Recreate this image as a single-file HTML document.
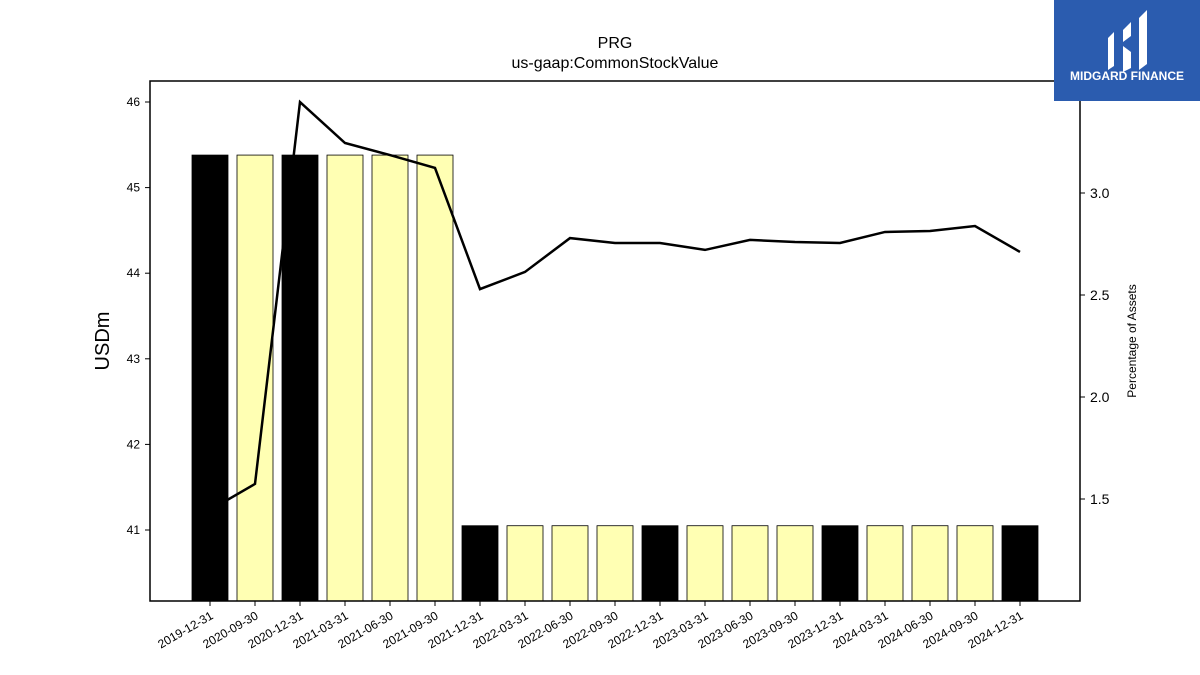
<!DOCTYPE html>
<html><head><meta charset="utf-8"><style>
body{margin:0;background:#fff;}
svg{display:block;font-family:"Liberation Sans","DejaVu Sans",sans-serif;}
</style></head><body>
<svg id="chart" width="1200" height="675" viewBox="0 0 1200 675">
<text x="615" y="48" font-size="16" text-anchor="middle">PRG</text>
<text x="615" y="68" font-size="16" text-anchor="middle">us-gaap:CommonStockValue</text>
<text x="0" y="0" font-size="20" text-anchor="middle" transform="translate(109,341) rotate(-90)">USDm</text>
<text x="0" y="0" font-size="12" text-anchor="middle" transform="translate(1136,341) rotate(-90)">Percentage of Assets</text>
<g id="bars"></g>
<g id="line"></g>
<g id="axes"></g>
<rect x="150" y="81" width="930" height="520" fill="none" stroke="#000" stroke-width="1.5"/>
<g>
<rect x="1054" y="0" width="146" height="101" fill="#2b5caf"/>
<path d="M1108 38 L1114 32 L1114 66 L1108 70 Z" fill="#fff"/>
<path d="M1123 30 L1131 22 L1131 36 L1123 42 Z M1123 46 L1131 52 L1131 68 L1123 72 Z" fill="#fff"/>
<path d="M1139 18 L1147 10 L1147 64 L1139 70 Z" fill="#fff"/>
<text x="1127" y="80" font-size="12" font-weight="bold" fill="#fff" text-anchor="middle">MIDGARD FINANCE</text>
</g>
</svg>
<script>
const categories=["2019-12-31","2020-09-30","2020-12-31","2021-03-31","2021-06-30","2021-09-30","2021-12-31","2022-03-31","2022-06-30","2022-09-30","2022-12-31","2023-03-31","2023-06-30","2023-09-30","2023-12-31","2024-03-31","2024-06-30","2024-09-30","2024-12-31"];
const barValues=[45.38,45.38,45.38,45.38,45.38,45.38,41.05,41.05,41.05,41.05,41.05,41.05,41.05,41.05,41.05,41.05,41.05,41.05,41.05];
const annual=[1,0,1,0,0,0,1,0,0,0,1,0,0,0,1,0,0,0,1];
const pctValues=[1.446,1.574,3.446,3.245,3.186,3.123,2.529,2.613,2.779,2.755,2.755,2.721,2.770,2.760,2.755,2.809,2.814,2.838,2.711];
const leftTicks=[41,42,43,44,45,46];
const rightTicks=[1.5,2.0,2.5,3.0];
const NS="http://www.w3.org/2000/svg";
const X0=150,X1=1080,Y0=81,Y1=601;
function xPos(i){return 210+i*45;}
function yL(v){return 530-(v-41)*85.6;}
function yR(v){return 193-(v-3.0)*204;}
function mk(t,a,p){const e=document.createElementNS(NS,t);for(const k in a)e.setAttribute(k,a[k]);p.appendChild(e);return e;}
const bars=document.getElementById('bars'),line=document.getElementById('line'),axes=document.getElementById('axes');
categories.forEach((c,i)=>{
 const y=yL(barValues[i]);
 const r=mk('rect',{x:xPos(i)-18,y:y,width:36,height:Y1-y,fill:annual[i]?'#000':'#ffffb3',stroke:'#000','stroke-width':0.8},bars);
 
 
 const t=mk('line',{x1:xPos(i),x2:xPos(i),y1:Y1,y2:Y1+5,stroke:'#000'},axes);
 
 
 const l=mk('text',{x:0,y:0,'font-size':12,'text-anchor':'end',transform:`translate(${xPos(i)+4},${Y1+17}) rotate(-30)`},axes);
 l.textContent=c;
 
 
});
const pl=mk('polyline',{points:pctValues.map((v,i)=>xPos(i)+','+yR(v)).join(' '),fill:'none',stroke:'#000','stroke-width':2.5},line);


leftTicks.forEach(v=>{
 const t=mk('line',{x1:X0-5,x2:X0,y1:yL(v),y2:yL(v),stroke:'#000'},axes);
 
 
 const l=mk('text',{x:X0-10,y:yL(v)+4,'font-size':12,'text-anchor':'end'},axes);
 l.textContent=v;
 
 
});
rightTicks.forEach(v=>{
 const t=mk('line',{x1:X1,x2:X1+5,y1:yR(v),y2:yR(v),stroke:'#000'},axes);
 
 
 const l=mk('text',{x:X1+10,y:yR(v)+5,'font-size':14},axes);
 l.textContent=v.toFixed(1);
 
 
});
</script>
</body></html>
